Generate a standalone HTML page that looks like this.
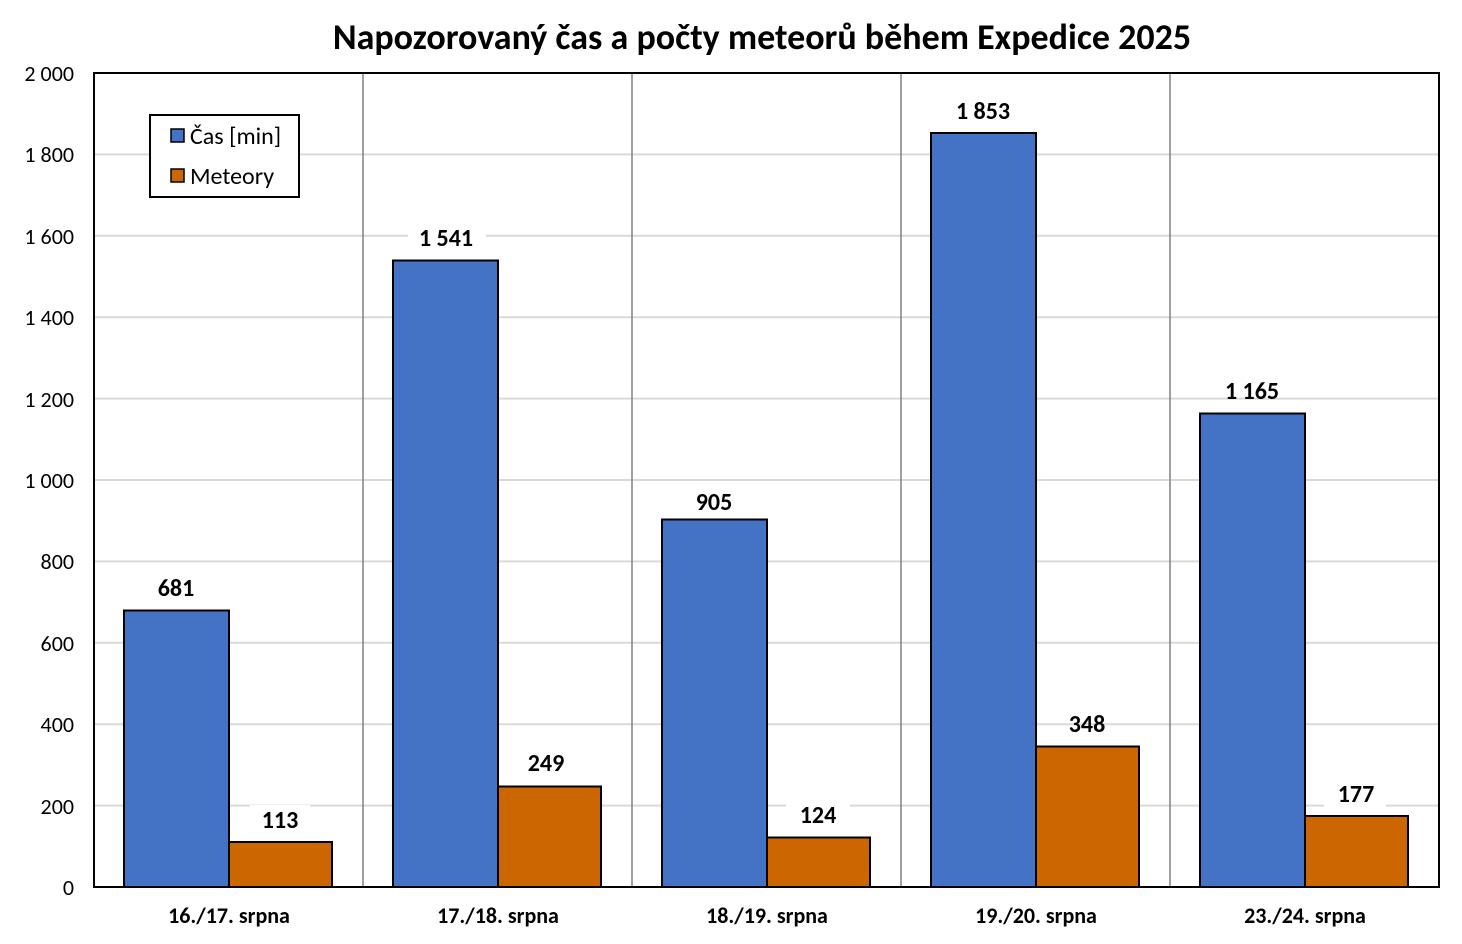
<!DOCTYPE html>
<html><head><meta charset="utf-8"><style>html,body{margin:0;padding:0;background:#fff}svg{display:block}</style></head><body>
<svg width="1462" height="944" xmlns="http://www.w3.org/2000/svg" font-family="Carlito, 'Liberation Sans', sans-serif">
<rect width="1462" height="944" fill="#fff"/>
<text x="762" y="49" text-anchor="middle" font-size="36" font-weight="bold">Napozorovaný čas a počty meteorů během Expedice 2025</text>
<g stroke="#d9d9d9" stroke-width="2">
<line x1="94" x2="1439" y1="805.6" y2="805.6"/><line x1="94" x2="1439" y1="724.2" y2="724.2"/>
<line x1="94" x2="1439" y1="642.8" y2="642.8"/><line x1="94" x2="1439" y1="561.4" y2="561.4"/>
<line x1="94" x2="1439" y1="480" y2="480"/><line x1="94" x2="1439" y1="398.6" y2="398.6"/>
<line x1="94" x2="1439" y1="317.2" y2="317.2"/><line x1="94" x2="1439" y1="235.8" y2="235.8"/>
<line x1="94" x2="1439" y1="154.4" y2="154.4"/>
</g>
<g stroke="#808080" stroke-width="1.5">
<line x1="363" x2="363" y1="73" y2="887"/><line x1="632" x2="632" y1="73" y2="887"/>
<line x1="901" x2="901" y1="73" y2="887"/><line x1="1170" x2="1170" y1="73" y2="887"/>
</g>
<g stroke="#000" stroke-width="2">
<rect x="124" y="610.5" width="105" height="276.5" fill="#4472c4"/>
<rect x="229" y="842" width="103" height="45" fill="#cc6600"/>
<rect x="393" y="260.5" width="105" height="626.5" fill="#4472c4"/>
<rect x="498" y="786.5" width="103" height="100.5" fill="#cc6600"/>
<rect x="662" y="519.5" width="105" height="367.5" fill="#4472c4"/>
<rect x="767" y="837.5" width="103" height="49.5" fill="#cc6600"/>
<rect x="931" y="133" width="105" height="754" fill="#4472c4"/>
<rect x="1036" y="746.5" width="103" height="140.5" fill="#cc6600"/>
<rect x="1200" y="413.5" width="105" height="473.5" fill="#4472c4"/>
<rect x="1305" y="816" width="103" height="71" fill="#cc6600"/>
</g>
<g fill="#fff">
<rect x="250" y="805" width="60" height="30"/><rect x="786" y="801" width="64" height="30"/><rect x="1324" y="779" width="62" height="30"/><rect x="408" y="222" width="78" height="30"/>
</g>
<g font-size="24" font-weight="bold" text-anchor="middle">
<text x="176" y="596">681</text><text x="280" y="828">113</text>
<text x="446" y="246">1 541</text><text x="546" y="771">249</text>
<text x="714" y="510">905</text><text x="818" y="823">124</text>
<text x="983" y="119">1 853</text><text x="1087" y="732">348</text>
<text x="1252" y="399">1 165</text><text x="1356" y="802">177</text>
</g>
<rect x="94" y="73" width="1345" height="814" fill="none" stroke="#000" stroke-width="2"/>
<g font-size="22" text-anchor="end">
<text x="74" y="895">0</text><text x="74" y="814">200</text><text x="74" y="732">400</text>
<text x="74" y="651">600</text><text x="74" y="569">800</text><text x="74" y="488">1 000</text>
<text x="74" y="407">1 200</text><text x="74" y="325">1 400</text><text x="74" y="244">1 600</text>
<text x="74" y="162">1 800</text><text x="74" y="81">2 000</text>
</g>
<g font-size="22" font-weight="bold" text-anchor="middle">
<text x="229" y="923">16./17. srpna</text><text x="498" y="923">17./18. srpna</text>
<text x="767" y="923">18./19. srpna</text><text x="1036" y="923">19./20. srpna</text>
<text x="1305" y="923">23./24. srpna</text>
</g>
<rect x="150" y="115" width="149" height="82" fill="#fff" stroke="#000" stroke-width="2"/>
<rect x="171" y="129" width="13" height="13" fill="#4472c4" stroke="#000" stroke-width="1.5"/>
<rect x="171" y="169" width="13" height="13" fill="#cc6600" stroke="#000" stroke-width="1.5"/>
<g font-size="24"><text x="190" y="144">Čas [min]</text><text x="190" y="184">Meteory</text></g>
</svg>
</body></html>
